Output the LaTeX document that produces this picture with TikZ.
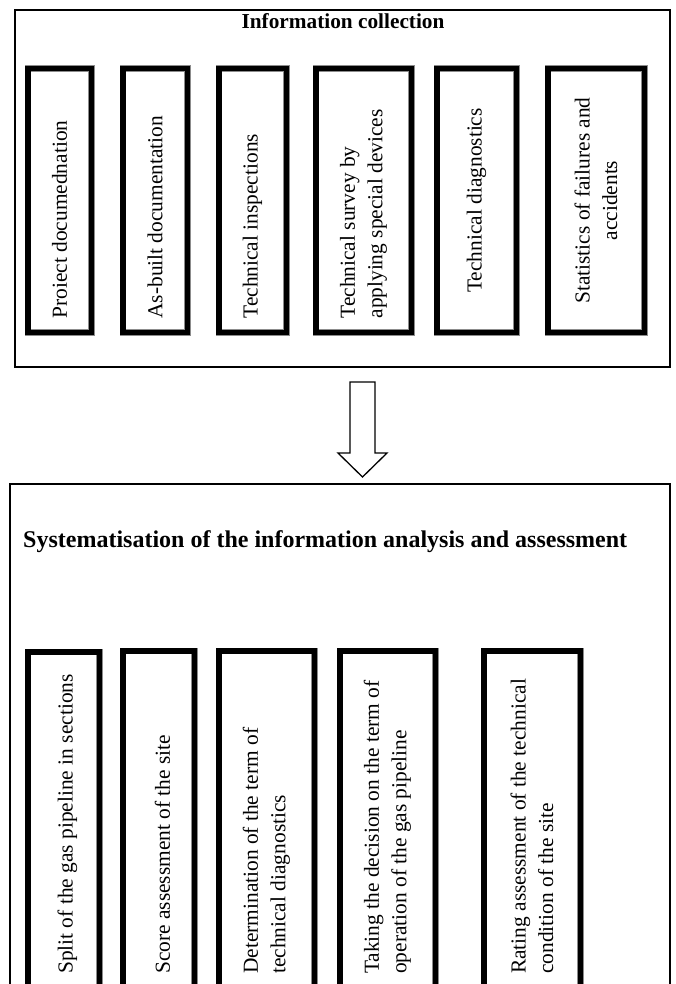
\documentclass[tikz,border=0pt]{standalone}
\usepackage{fontspec}
\setmainfont{Liberation Serif}
\usetikzlibrary{calc}
\definecolor{rim}{HTML}{8C8C8C}

\tikzset{
  frame/.style={draw=black, line width=2pt, inner sep=0pt},
  boxfont/.style={font=\fontsize{21.4pt}{27.5pt}\selectfont},
  thickbox/.style={draw=black, line width=5.5pt, preaction={draw=rim, line width=6.5pt},
    rotate=90, inner ysep=0pt, boxfont},
  infobox/.style={thickbox, minimum width=263.5pt, inner xsep=13.75pt, text width=236pt, align=flush left},
  infomid/.style={infobox, align=flush center},
  sysbox/.style={thickbox, minimum width=341.25pt, inner sep=0pt},
  systext/.style={rotate=90, anchor=west, inner sep=0pt, align=flush left, boxfont},
  blockarrow/.style={draw=black, line width=1.3pt, fill=white, line join=miter}
}

\begin{document}
\begin{tikzpicture}[x=1pt,y=-1pt]
\useasboundingbox (0,0) rectangle (676,984);
\clip (0,0) rectangle (676,984);
\fill[white] (0,0) rectangle (676,984);

\node[frame, minimum width=655pt, minimum height=356.5pt] (info) at (342.5,188.75) {};
\node[frame, minimum width=660pt, minimum height=516pt] (sys) at (340,742) {};

\node[font=\bfseries\fontsize{21.3pt}{25pt}\selectfont, anchor=base, inner sep=0pt] (infotitle) at (343,29) {Information collection};
\node[font=\bfseries\fontsize{24pt}{28pt}\selectfont, anchor=base west, inner sep=0pt] (systitle) at (23,547) {Systematisation of the information analysis and assessment};

\node[infobox, minimum height=63.5pt] (proj) at (59.5,200.5) {Proiect documednation};
\node[infobox, minimum height=64.5pt] (asbuilt) at (155,200.5) {As-built documentation};
\node[infobox, minimum height=67.5pt] (inspect) at (252.5,200.5) {Technical inspections};
\node[infobox, minimum height=95.5pt] (survey) at (363.5,200.5) {Technical survey by\\applying special devices};
\node[infomid, minimum height=79.5pt] (diag) at (476.5,200.5) {Technical diagnostics};
\node[infomid, minimum height=96.5pt] (stats) at (596,200.5) {Statistics of failures and\\accidents};

\node[sysbox, minimum height=71.5pt] (split) at (63.5,822.5) {};
\node[sysbox, minimum height=71.5pt] (score) at (158.5,821.4) {};
\node[sysbox, minimum height=95.5pt] (term) at (266.5,821.4) {};
\node[sysbox, minimum height=95.5pt] (decision) at (387.5,821.4) {};
\node[sysbox, minimum height=96.5pt] (rating) at (532,821.4) {};

\node[systext] (splittext) at ($(split.center |- 0,974)+(4,0)$) {Split of the gas pipeline in sections};
\node[systext] (scoretext) at ($(score.center |- 0,974)+(4,0)$) {Score assessment of the site};
\node[systext] (termtext) at (term.center |- 0,974) {Determination of the term of\\technical diagnostics};
\node[systext] (decisiontext) at (decision.center |- 0,974) {Taking the decision on the term of\\operation of the gas pipeline};
\node[systext] (ratingtext) at (rating.center |- 0,974) {Rating assessment of the technical\\condition of the site};

\coordinate (arrtop) at ($(info.south)+(20,14)$);
\coordinate (arrtip) at ($(sys.north)+(22.5,-6)$);
\draw[blockarrow] ($(arrtop)+(-12.5,0)$) -- ($(arrtop)+(12.5,0)$) -- ($(arrtip)+(12.5,-24)$)
  -- ($(arrtip)+(24.5,-24)$) -- (arrtip) -- ($(arrtip)+(-24.5,-24)$) -- ($(arrtip)+(-12.5,-24)$) -- cycle;
\end{tikzpicture}
\end{document}
